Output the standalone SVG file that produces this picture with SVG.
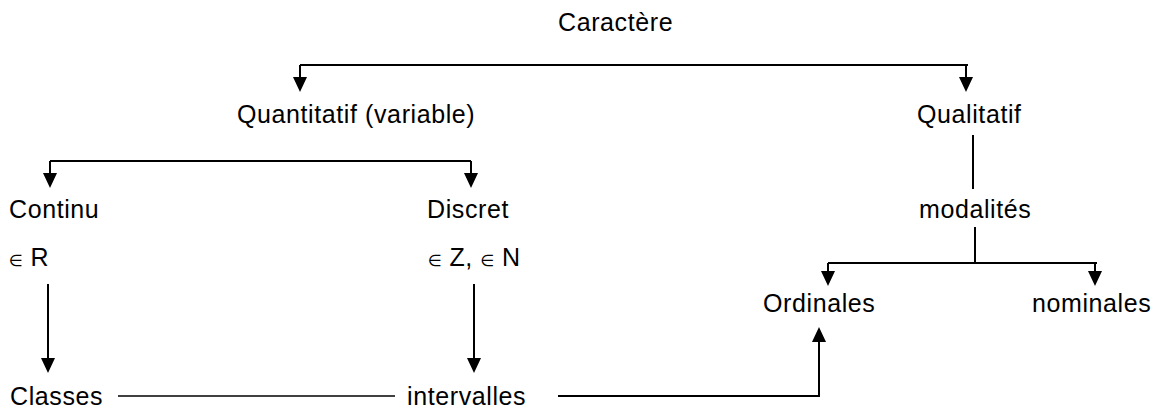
<svg xmlns="http://www.w3.org/2000/svg" width="1159" height="411" viewBox="0 0 1159 411">
<style>
text{font-family:"Liberation Sans",Arial,sans-serif;font-size:25px;letter-spacing:0.6px;fill:#000}
.sym{font-family:"DejaVu Sans",sans-serif;font-size:16px;letter-spacing:0}
.ln{fill:none;stroke:#000;stroke-width:2}
.thin{fill:none;stroke:#000;stroke-width:1.6}
</style>
<defs>
<marker id="ah" markerUnits="userSpaceOnUse" markerWidth="16" markerHeight="14" refX="0" refY="7" orient="auto">
<path d="M0,0 L15,7 L0,14 z" fill="#000"/>
</marker>
</defs>
<g id="n-caractere"><text x="558" y="31">Caractère</text></g>
<g id="n-quantitatif"><text x="237" y="123">Quantitatif (variable)</text></g>
<g id="n-qualitatif"><text x="917" y="123">Qualitatif</text></g>
<g id="n-continu"><text x="9" y="218">Continu</text></g>
<g id="n-discret"><text x="427" y="218">Discret</text></g>
<g id="n-r"><text x="9" y="266"><tspan class="sym">∈</tspan> R</text></g>
<g id="n-zn"><text x="428" y="266"><tspan class="sym">∈</tspan> Z, <tspan class="sym">∈</tspan> N</text></g>
<g id="n-modalites"><text x="919" y="218">modalités</text></g>
<g id="n-ordinales"><text x="763" y="312">Ordinales</text></g>
<g id="n-nominales"><text x="1032" y="312">nominales</text></g>
<g id="n-classes"><text x="10" y="405">Classes</text></g>
<g id="n-intervalles"><text x="407" y="405">intervalles</text></g>
<g id="connectors">
<path class="ln" d="M300,65 H968"/>
<path class="ln" d="M300,65 V77" marker-end="url(#ah)"/>
<path class="ln" d="M966,65 V77" marker-end="url(#ah)"/>
<path class="ln" d="M50,161 H471"/>
<path class="ln" d="M50,161 V173" marker-end="url(#ah)"/>
<path class="ln" d="M471,161 V173" marker-end="url(#ah)"/>
<path class="ln" d="M973,135 V189"/>
<path class="ln" d="M975,227 V263"/>
<path class="ln" d="M828,263 H1097"/>
<path class="ln" d="M828,263 V271" marker-end="url(#ah)"/>
<path class="ln" d="M1095,263 V271" marker-end="url(#ah)"/>
<path class="ln" d="M48,284 V358" marker-end="url(#ah)"/>
<path class="ln" d="M474,284 V358" marker-end="url(#ah)"/>
<path class="thin" d="M118,396 H395"/>
<path class="ln" d="M558,396 H819 V342" marker-end="url(#ah)"/>
</g>
</svg>
